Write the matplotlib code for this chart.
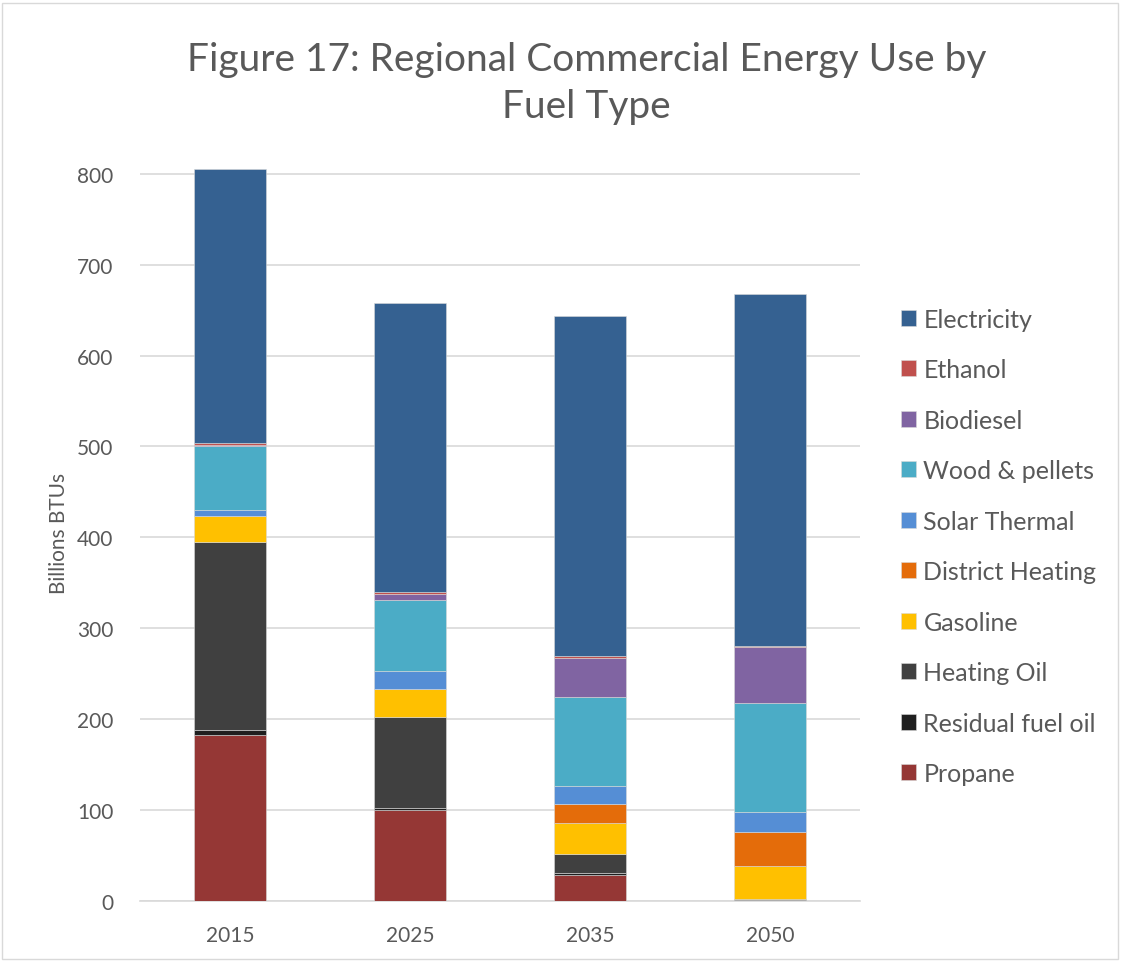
import matplotlib.pyplot as plt
import numpy as np

plt.rcParams['font.family'] = ['Lato', 'DejaVu Sans']

years = ['2015', '2025', '2035', '2050']

# values in billions BTUs (bottom to top)
propane = [183, 100, 28.5, 0.5]
residual_fuel_oil = [5, 2, 2, 0.5]
heating_oil = [207, 100, 21, 1.5]
gasoline = [29, 31.5, 34.5, 36.5]
district_heating = [0, 0, 21, 37]
solar_thermal = [6.5, 20, 20, 22]
wood_pellets = [70, 78, 97, 120]
biodiesel = [1.5, 6, 43, 61]
ethanol = [2, 2, 2, 2]
electricity = [301, 318, 374, 387]

series = [
    ('Propane', propane, '#953735'),
    ('Residual fuel oil', residual_fuel_oil, '#1f1f1f'),
    ('Heating Oil', heating_oil, '#404040'),
    ('Gasoline', gasoline, '#FFC000'),
    ('District Heating', district_heating, '#E46C0A'),
    ('Solar Thermal', solar_thermal, '#558ED5'),
    ('Wood & pellets', wood_pellets, '#4BACC6'),
    ('Biodiesel', biodiesel, '#8064A2'),
    ('Ethanol', ethanol, '#C0504D'),
    ('Electricity', electricity, '#356191'),
]

fig = plt.figure(figsize=(11.22, 9.62), dpi=100)
# axes spans 0..810 so the 2015 bar is not cut at the 800 gridline
ax = fig.add_axes([0.1248, 0.0624, 0.6417, 0.7654])

x = np.arange(len(years))
bottom = np.zeros(len(years))
handles = []
for name, vals, color in series:
    vals = np.array(vals, dtype=float)
    b = ax.bar(x, vals, width=0.4, bottom=bottom, color=color,
               edgecolor='#d9d9d9', linewidth=0.4, label=name, zorder=3)
    handles.append(b)
    bottom += vals

ax.set_xlim(-0.5, 3.5)
ax.set_ylim(0, 810)
ax.set_yticks(range(0, 801, 100))
ax.set_xticks(x)
ax.set_xticklabels(years)
ax.tick_params(axis='both', length=0, labelsize=15, colors='#595959')
ax.tick_params(axis='y', pad=19)
ax.tick_params(axis='x', pad=17)
ax.yaxis.grid(True, color='#d9d9d9', linewidth=1.2, zorder=0)
for s in ['top', 'right', 'left']:
    ax.spines[s].set_visible(False)
ax.spines['bottom'].set_color('#d9d9d9')
ax.spines['bottom'].set_linewidth(1.2)
ax.set_ylabel('Billions BTUs', fontsize=15, color='#595959', labelpad=6)

fig.text(0.523, 0.913, 'Figure 17: Regional Commercial Energy Use by\nFuel Type',
         ha='center', va='center', fontsize=28, color='#595959', linespacing=1.38)

leg = fig.legend(handles[::-1], [s[0] for s in series][::-1],
                 loc='center left', bbox_to_anchor=(0.803, 0.431),
                 frameon=False, fontsize=18, handlelength=0.6, handleheight=0.6,
                 handletextpad=0.3, labelspacing=1.1, borderpad=0, borderaxespad=0)
for t in leg.get_texts():
    t.set_color('#595959')

# chart border
fig.patches.append(plt.Rectangle((0.002, 0.002), 0.994, 0.994, transform=fig.transFigure,
                                 fill=False, edgecolor='#d9d9d9', linewidth=1))

fig.savefig('out.png', dpi=100)
